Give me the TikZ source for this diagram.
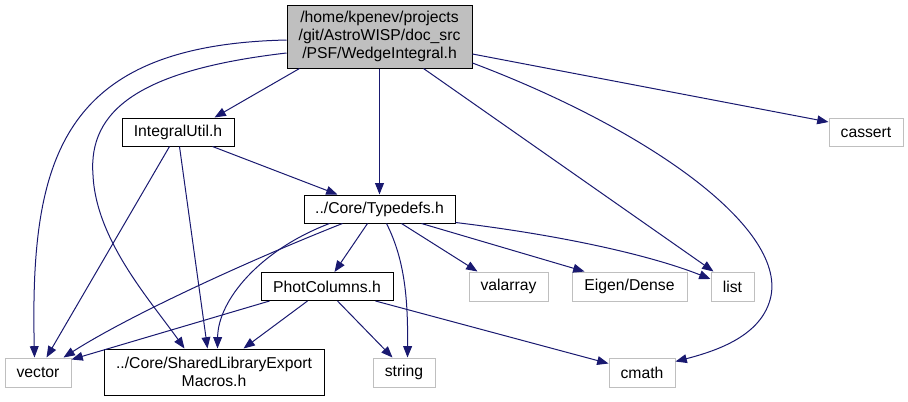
\documentclass[tikz,border=0pt]{standalone}
\usepackage{fontspec}
\setmainfont{Liberation Sans}
\usetikzlibrary{arrows.meta,calc}
\definecolor{edgec}{HTML}{191970}
\definecolor{lightb}{HTML}{BFBFBF}
\begin{document}
\begin{tikzpicture}[x=0.75pt,y=-0.75pt,
  box/.style 2 args={draw, rectangle, inner sep=0pt, line width=0.75pt,
     minimum width=#1*0.75pt, minimum height=#2*0.75pt, align=center,
     font=\fontsize{11.8}{13.5}\selectfont},
  hdr/.style={fill=lightb, draw=black},
  sys/.style={draw=lightb},
  e/.style={draw=edgec, line width=0.75pt, -{Triangle[length=8.5pt,width=6.6pt]}, edgec}]
\useasboundingbox (0,0) rectangle (908,401);
\node[box={185}{63}, hdr] (main) at (379.5,36.5) {/home/kpenev/projects\\/git/AstroWISP/doc\_src\\/PSF/WedgeIntegral.h};
\node[box={112}{28}] (iu) at (178,132) {IntegralUtil.h};
\node[box={151}{28}] (td) at (379.5,209) {../Core/Typedefs.h};
\node[box={132}{28}] (pc) at (327,286.5) {PhotColumns.h};
\node[box={66}{29}, sys] (vector) at (38,372.5) {vector};
\node[box={220}{46}] (sl) at (214,372) {../Core/SharedLibraryExport\\Macros.h};
\node[box={62}{29}, sys] (string) at (404,372.5) {string};
\node[box={79}{29}, sys] (valarray) at (508.5,286.5) {valarray};
\node[box={115}{29}, sys] (eigen) at (629.5,286.5) {Eigen/Dense};
\node[box={43}{29}, sys] (list) at (732.5,286.5) {list};
\node[box={74}{28}, sys] (cassert) at (866,132) {cassert};
\node[box={66}{29}, sys] (cmath) at (642,372.5) {cmath};
% main
\draw[e] ($(main.south west)+(13,0)$) -- ($(iu.north west)+(93,0)$);
\draw[e] (main.south) -- (td.north);
\draw[e] ($(main.west)+(0,3.5)$) .. controls (60,45) and (30,160) .. ($(vector.north west)+(30,0)$);
\draw[e] ($(main.west)+(0,16.5)$) .. controls (140,70) and (88,110) .. (93,175) .. controls (96,240) and (150,300) .. ($(sl.north west)+(81,0)$);
\draw[e] ($(main.south east)+(-49,0)$) -- ($(list.north west)+(3,0)$);
\draw[e] ($(main.east)+(0,26.5)$) .. controls (650,130) and (790,230) .. (770,300) .. controls (760,335) and (720,350) .. ($(cmath.north east)+(0,4)$);
\draw[e] ($(main.east)+(0,17.5)$) -- ($(cassert.west)+(0,-10)$);
% IntegralUtil
\draw[e] ($(iu.south west)+(91,0)$) -- ($(td.north west)+(34,0)$);
\draw[e] ($(iu.south west)+(48,0)$) -- ($(vector.north west)+(42,0)$);
\draw[e] ($(iu.south west)+(58,0)$) -- ($(sl.north west)+(104,0)$);
% Typedefs
\draw[e] ($(td.south west)+(39,0)$) .. controls (250,260) and (130,315) .. ($(vector.north east)+(-8,0)$);
\draw[e] ($(td.south west)+(26,0)$) .. controls (260,250) and (218,300) .. ($(sl.north west)+(114,0)$);
\draw[e] ($(td.south west)+(64,0)$) -- ($(pc.north west)+(74,0)$);
\draw[e] ($(td.south west)+(83,0)$) .. controls (405,260) and (408,300) .. ($(string.north west)+(35,0)$);
\draw[e] ($(td.south west)+(98,0)$) -- ($(valarray.north west)+(9,0)$);
\draw[e] ($(td.south west)+(118,0)$) -- ($(eigen.north west)+(13,0)$);
\draw[e] ($(td.south east)+(0,-1)$) .. controls (560,235) and (650,255) .. ($(list.west)+(0,-7.5)$);
% PhotColumns
\draw[e] ($(pc.south west)+(9,0)$) -- ($(vector.north east)+(0,2)$);
\draw[e] ($(pc.south west)+(47,0)$) -- ($(sl.north east)+(-81,0)$);
\draw[e] ($(pc.south west)+(77,0)$) -- ($(string.north west)+(20,0)$);
\draw[e] ($(pc.south east)+(-18,0)$) -- ($(cmath.west)+(0,-9)$);
\end{tikzpicture}
\end{document}
